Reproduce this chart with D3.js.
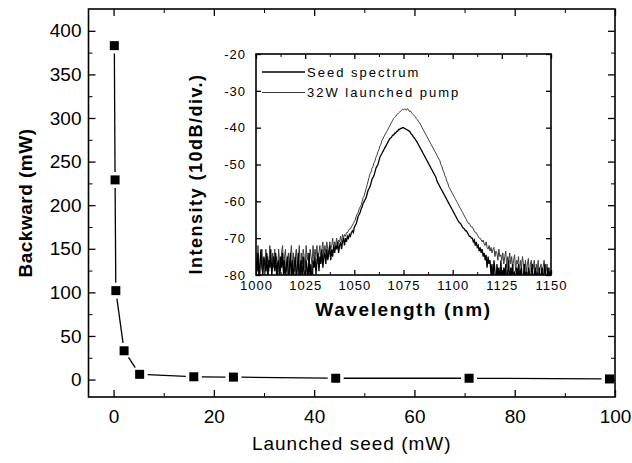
<!DOCTYPE html>
<html>
<head>
<meta charset="utf-8">
<script src="https://cdn.jsdelivr.net/npm/d3@7"></script>
<style>
    body { margin: 0; background: #fff; }
    svg { display: block; font-family: "Liberation Sans", Arial, sans-serif; }
    .domain { display: none; }
</style>
</head>
<body>
<svg id="chart" width="632" height="463"></svg>
<script>
// main plot: backward power vs launched seed
const seedPower = [0.15, 0.3, 0.45, 2.1, 5.2, 16, 23.9, 44.3, 70.9, 98.9];
const backwardPower = [383, 229, 102, 33, 6, 3.2, 2.8, 1.5, 1.5, 0.7];
const mainXTicks = [0, 20, 40, 60, 80, 100];
const mainYTicks = [0, 50, 100, 150, 200, 250, 300, 350, 400];

// inset: spectra, sampled every 0.5 nm from 1000 to 1150
const wavelengths = d3.range(1000, 1150.25, 0.5);
const seedSpectrum = [
    -76, -79, -74, -81, -77, -73, -78, -80, -75, -77,
    -79, -74, -82, -76, -78, -73, -80, -77, -75, -79,
    -74, -81, -77, -76, -83, -75, -78, -74, -80, -76,
    -82, -77, -75, -84, -78, -74, -81, -76, -83, -77,
    -75, -82, -78, -74, -85, -77, -76, -83, -75, -79,
    -84, -76, -78, -82, -74, -81, -77, -85, -76, -78,
    -75, -80, -76, -74, -79, -75, -77, -73, -78, -75,
    -74, -77, -73, -76, -74, -72, -76, -73, -75, -72,
    -74, -72, -73, -71, -74, -72, -71, -73, -71, -70,
    -72, -70, -71, -69.5, -70, -69, -69.5, -68.5, -68, -68.5,
    -67, -66.5, -66, -65, -64, -63.5, -63, -62, -61.5, -60.5,
    -60, -59.5, -59, -58, -57, -56.5, -56, -55, -54, -53.5,
    -53, -52, -51, -50.5, -50, -49, -48, -47.5, -47, -46.5,
    -46, -45.5, -45, -44.5, -44, -43.5, -43, -42.8, -42.5, -42,
    -42, -41.5, -41.5, -41, -41, -40.5, -40.5, -40.2, -40.2, -40,
    -40, -40.2, -40.3, -40.5, -40.6, -40.8, -41, -41.3, -41.8, -42,
    -42.5, -42.8, -43.2, -43.6, -44, -44.5, -45, -45.5, -46, -46.5,
    -47, -47.5, -48, -48.5, -49, -49.5, -50, -50.5, -51, -51.5,
    -52, -52.5, -53, -53.5, -54.5, -55, -55.5, -56, -56.5, -57,
    -57.5, -58, -58.5, -59, -59.5, -60, -60.5, -61, -61.5, -62,
    -62.5, -63, -63.5, -64, -64.5, -65, -65.5, -65.8, -66, -66.5,
    -67, -67.3, -67.5, -68, -68, -68.5, -69, -69.5, -69.5, -70,
    -70, -71, -70.5, -72, -71, -72.5, -72, -73.5, -72.5, -74,
    -73, -75, -74, -76, -74.5, -78, -75, -77, -76, -80,
    -77, -82, -76, -79, -84, -77, -80, -78, -83, -76,
    -81, -85, -78, -80, -77, -83, -79, -76, -84, -78,
    -80, -77, -82, -79, -85, -78, -80, -77, -83, -79,
    -78, -84, -80, -77, -82, -79, -85, -78, -80, -83,
    -79, -77, -84, -80, -78, -82, -79, -86, -78, -81,
    -80, -78, -83, -79, -77, -84, -80, -78, -82, -79,
    -81
];
const pumpSpectrum = [
    -74, -79, -72, -77, -80, -75, -73, -78, -76, -81,
    -73, -77, -75, -79, -72, -76, -80, -74, -78, -73,
    -77, -75, -80, -73, -76, -79, -74, -72, -78, -75,
    -73, -79, -76, -74, -81, -75, -72, -77, -74, -79,
    -75, -73, -78, -76, -72, -80, -74, -77, -73, -75,
    -78, -72, -76, -74, -79, -73, -75, -77, -72, -76,
    -73, -75, -72, -77, -74, -72, -76, -73, -71, -75,
    -72, -74, -71, -73, -75, -71, -73, -72, -70, -73,
    -71, -72, -70, -72, -70.5, -71, -69.5, -71, -69, -70,
    -69, -69.5, -68.5, -68.5, -68, -67.5, -67.5, -67, -66.5, -66,
    -65.5, -65, -64, -63.5, -63, -62, -61.5, -61, -60, -59,
    -58.5, -57.5, -56.5, -55.5, -54.5, -53.5, -52.5, -52, -51, -50.5,
    -49.5, -49, -48, -47.5, -46.5, -46, -45, -44.5, -43.5, -43,
    -42.5, -42, -41.5, -41, -40.5, -40, -39.5, -39, -38.5, -38,
    -37.5, -37.2, -37, -36.5, -36.3, -36, -35.8, -35.5, -35.3, -35,
    -35.2, -34.9, -35, -35.3, -34.8, -35.1, -35.6, -35.4, -35.8, -36.2,
    -36.5, -36.8, -37, -37.5, -37.8, -38.2, -38.5, -39, -39.5, -40,
    -40.5, -41, -41.5, -42, -42.5, -43, -43.5, -44, -44.5, -45,
    -45.5, -46, -46.5, -47, -47.5, -48, -48.5, -49, -50, -50.5,
    -51.5, -52, -53, -53.5, -54.5, -55, -56, -56.5, -57, -57.5,
    -58, -58.5, -59, -59.5, -60, -60.5, -61, -61.5, -62, -62.5,
    -63, -63.5, -64, -64.5, -65, -65.5, -66, -66, -66.5, -67,
    -67, -67.5, -68, -68.5, -68.5, -69, -69.5, -70, -70, -70.5,
    -71, -70.5, -71.5, -72, -71, -72.5, -73, -72, -73.5, -72.5,
    -74, -73, -72.5, -75, -73.5, -74, -76, -73, -75, -74.5,
    -76, -74, -77, -75, -73.5, -78, -75, -76.5, -74, -77,
    -75, -78, -76, -74.5, -79, -76, -77, -75, -80, -76,
    -78, -75, -77, -80, -76, -79, -77, -75.5, -81, -77,
    -76, -79, -78, -76, -82, -77, -79, -76, -80, -78,
    -77, -81, -78, -76, -80, -79, -77, -82, -78, -80,
    -79
];
const insetXTicks = [1000, 1025, 1050, 1075, 1100, 1125, 1150];
const insetYTicks = [-80, -70, -60, -50, -40, -30, -20];
const legendLabels = ['Seed spectrum', '32W launched pump'];

const svg = d3.select('#chart');

// frame helper: box + inward ticks on all four sides
function drawFrame(g, x, y, opts) {
    const [x0, x1] = x.range();
    const [y0, y1] = y.range();

    const sides = [
        { axis: d3.axisBottom, scale: x, ticks: opts.xTicks, minor: opts.xMinor, tr: `translate(0,${y0})`, labels: true, pad: opts.padX },
        { axis: d3.axisTop, scale: x, ticks: opts.xTicks, minor: opts.xMinor, tr: `translate(0,${y1})`, labels: false, pad: 0 },
        { axis: d3.axisLeft, scale: y, ticks: opts.yTicks, minor: opts.yMinor, tr: `translate(${x0},0)`, labels: true, pad: opts.padY },
        { axis: d3.axisRight, scale: y, ticks: opts.yTicks, minor: opts.yMinor, tr: `translate(${x1},0)`, labels: false, pad: 0 }
    ];

    sides.forEach(s => {
        g.append('g')
            .attr('transform', s.tr)
            .call(s.axis(s.scale).tickValues(s.minor).tickSize(-opts.minor).tickFormat(''))
            .call(a => a.selectAll('line').attr('stroke', '#000').attr('stroke-width', 1));

        const major = g.append('g')
            .attr('transform', s.tr)
            .call(s.axis(s.scale).tickValues(s.ticks).tickSize(-opts.major).tickPadding(s.pad)
                .tickFormat(s.labels ? opts.fmt : ''));
        major.selectAll('line').attr('stroke', '#000').attr('stroke-width', 1.3);
        major.selectAll('text')
            .attr('fill', '#000')
            .attr('font-size', opts.fontSize)
            .style('letter-spacing', opts.spacing + 'px');
    });

    g.append('rect')
        .attr('x', x0)
        .attr('y', y1)
        .attr('width', x1 - x0)
        .attr('height', y0 - y1)
        .attr('fill', 'none')
        .attr('stroke', '#000')
        .attr('stroke-width', 1.6);
}

// ---- main plot ----
const x = d3.scaleLinear().domain([-5, 100]).range([88.5, 615]);
const y = d3.scaleLinear().domain([-20, 425]).range([397, 9]);

const mainG = svg.append('g');
drawFrame(mainG, x, y, {
    xTicks: mainXTicks,
    yTicks: mainYTicks,
    xMinor: [10, 30, 50, 70, 90],
    yMinor: [25, 75, 125, 175, 225, 275, 325, 375],
    major: 7, minor: 4, padX: 13, padY: 7,
    fontSize: 19, spacing: 0,
    fmt: d3.format('d')
});

// line segments stop short of the symbols
const points = seedPower.map((d, i) => ({ px: x(d), py: y(backwardPower[i]) }));
const gap = 8;
const segments = d3.pairs(points).map(([a, b]) => {
    const dx = b.px - a.px, dy = b.py - a.py;
    const len = Math.sqrt(dx * dx + dy * dy);
    const ux = dx / len, uy = dy / len;
    return { x1: a.px + ux * gap, y1: a.py + uy * gap, x2: b.px - ux * gap, y2: b.py - uy * gap };
});

mainG.append('g')
    .selectAll('line')
    .data(segments)
    .enter()
    .append('line')
    .attr('x1', d => d.x1).attr('y1', d => d.y1)
    .attr('x2', d => d.x2).attr('y2', d => d.y2)
    .attr('stroke', '#000')
    .attr('stroke-width', 1.3);

mainG.append('g')
    .selectAll('rect')
    .data(points)
    .enter()
    .append('rect')
    .attr('x', d => d.px - 4.5)
    .attr('y', d => d.py - 4.5)
    .attr('width', 9)
    .attr('height', 9)
    .attr('fill', '#000');

mainG.append('text')
    .attr('x', (x.range()[0] + x.range()[1]) / 2)
    .attr('y', 450)
    .attr('text-anchor', 'middle')
    .attr('font-size', 19)
    .style('letter-spacing', '1px')
    .text('Launched seed (mW)');

mainG.append('text')
    .attr('transform', `translate(32,${(y.range()[0] + y.range()[1]) / 2}) rotate(-90)`)
    .attr('text-anchor', 'middle')
    .attr('font-size', 19)
    .attr('font-weight', 'bold')
    .style('letter-spacing', '0.5px')
    .text('Backward (mW)');

// ---- inset ----
const ix = d3.scaleLinear().domain([1000, 1150]).range([256, 551]);
const iy = d3.scaleLinear().domain([-80, -20]).range([275, 54]);

const insetG = svg.append('g');
insetG.append('rect')
    .attr('x', ix.range()[0]).attr('y', iy.range()[1])
    .attr('width', ix.range()[1] - ix.range()[0])
    .attr('height', iy.range()[0] - iy.range()[1])
    .attr('fill', '#fff');

svg.append('defs')
    .append('clipPath')
    .attr('id', 'inset-clip')
    .append('rect')
    .attr('x', ix.range()[0])
    .attr('y', iy.range()[1])
    .attr('width', ix.range()[1] - ix.range()[0])
    .attr('height', iy.range()[0] - iy.range()[1]);

const spectrumLine = d3.line()
    .x((d, i) => ix(wavelengths[i]))
    .y(d => iy(d));

const curves = insetG.append('g').attr('clip-path', 'url(#inset-clip)');
curves.append('path')
    .datum(pumpSpectrum)
    .attr('d', spectrumLine)
    .attr('fill', 'none')
    .attr('stroke', '#3c3c3c')
    .attr('stroke-width', 1);
curves.append('path')
    .datum(seedSpectrum)
    .attr('d', spectrumLine)
    .attr('fill', 'none')
    .attr('stroke', '#000')
    .attr('stroke-width', 1.3);

drawFrame(insetG, ix, iy, {
    xTicks: insetXTicks,
    yTicks: insetYTicks,
    xMinor: [1012.5, 1037.5, 1062.5, 1087.5, 1112.5, 1137.5],
    yMinor: [],
    major: 5, minor: 3, padX: 6, padY: 10,
    fontSize: 13, spacing: 1,
    fmt: d => d < 0 ? '-' + Math.abs(d) : d
});

// legend
const legend = insetG.append('g')
    .selectAll('g')
    .data(legendLabels)
    .enter()
    .append('g')
    .attr('transform', (d, i) => `translate(262,${72 + i * 20.5})`);

legend.append('line')
    .attr('x1', 0).attr('x2', 43)
    .attr('stroke', (d, i) => i === 0 ? '#000' : '#3c3c3c')
    .attr('stroke-width', (d, i) => i === 0 ? 1.3 : 1);

legend.append('text')
    .attr('x', 45)
    .attr('dy', '0.35em')
    .attr('font-size', 13)
    .style('letter-spacing', '2px')
    .text(d => d);

insetG.append('text')
    .attr('x', (ix.range()[0] + ix.range()[1]) / 2)
    .attr('y', 316)
    .attr('text-anchor', 'middle')
    .attr('font-size', 19)
    .attr('font-weight', 'bold')
    .style('letter-spacing', '1.6px')
    .text('Wavelength (nm)');

insetG.append('text')
    .attr('transform', 'translate(202,174) rotate(-90)')
    .attr('text-anchor', 'middle')
    .attr('font-size', 18)
    .attr('font-weight', 'bold')
    .style('letter-spacing', '1.5px')
    .text('Intensity (10dB/div.)');
</script>
</body>
</html>
